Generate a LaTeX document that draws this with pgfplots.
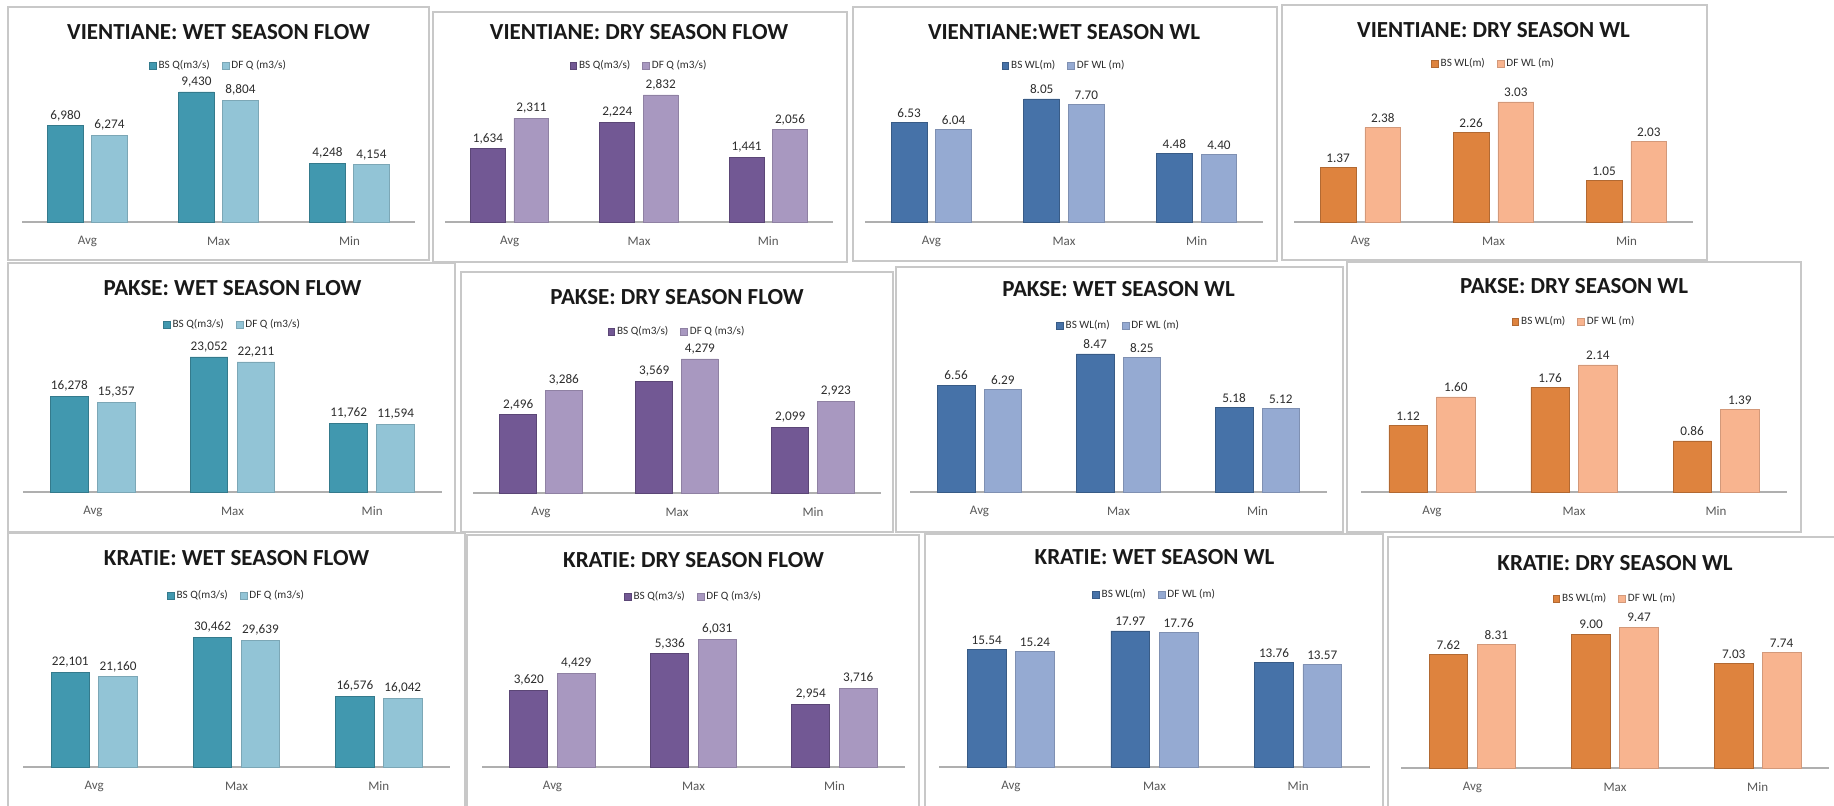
\documentclass[border=0pt]{standalone}
\usepackage{pgfplots}
\pgfplotsset{compat=1.18}
\usepackage{fontspec}
\setmainfont{Carlito}
\definecolor{tealA}{RGB}{65,152,175}
\definecolor{tealB}{RGB}{146,196,214}
\definecolor{purA}{RGB}{114,88,148}
\definecolor{purB}{RGB}{168,152,192}
\definecolor{bluA}{RGB}{70,114,168}
\definecolor{bluB}{RGB}{149,170,210}
\definecolor{orA}{RGB}{222,131,62}
\definecolor{orB}{RGB}{248,180,143}
\definecolor{boxgray}{RGB}{200,200,200}
\definecolor{axgray}{RGB}{175,175,175}
\definecolor{lblgray}{RGB}{89,89,89}
\definecolor{valgray}{RGB}{45,45,45}
\pgfplotsset{
  panel/.style={
    scale only axis, anchor=south west, ybar, ymin=0, xmin=-0.5, xmax=2.5,
    bar width=0.27,
    axis y line=none, axis x line=bottom,
    axis line style={-, draw=axgray, line width=0.7pt},
    xtick={0,1,2}, xticklabels={Avg,Max,Min}, major tick length=0pt, ytick=\empty,
    xticklabel style={font=\fontsize{6.5}{7}\selectfont, text=lblgray, anchor=center, yshift=-9.5pt},
    clip=false,
    nodes near coords,
    every node near coord/.append style={font=\fontsize{6.6}{7}\selectfont, text=valgray, inner sep=2.3pt},
    legend columns=2,
    legend style={at={(0.5,1)}, anchor=center, yshift=-2pt, draw=none, fill=none,
      font=\fontsize{5.6}{6}\selectfont, text=valgray, inner sep=0pt,
      nodes={inner sep=1pt},
      /tikz/every even column/.append style={column sep=5pt}},
    legend image code/.code={\fill[##1] (0pt,-1.7pt) rectangle (3.4pt,1.7pt);},
  },
  flowfmt/.style={/pgf/number format/fixed, /pgf/number format/precision=0,
    /pgf/number format/1000 sep={,}, /pgf/number format/assume math mode=true},
  wlfmt/.style={/pgf/number format/fixed, /pgf/number format/fixed zerofill,
    /pgf/number format/precision=2, /pgf/number format/assume math mode=true},
}
\newcommand\bars[8]{%
  \addplot[fill=#1, draw=#1!80!black, line width=0.4pt, bar shift=-0.168] coordinates {(0,#3) (1,#4) (2,#5)};
  \addplot[fill=#2, draw=#2!85!black, line width=0.4pt, bar shift=0.168] coordinates {(0,#6) (1,#7) (2,#8)};
}
\tikzset{ptitle/.style={font=\bfseries\fontsize{11.5}{13}\selectfont, text=black!90, anchor=center, inner sep=0pt}}
\begin{document}
\begin{tikzpicture}
\useasboundingbox (0,0) rectangle (917pt,403pt);
\clip (0,0) rectangle (917pt,403pt);
\fill[white] (0,0) rectangle (917pt,403pt);
% boxes
\begin{scope}[boxgray, line width=0.9pt]
\draw (4pt,399.5pt) rectangle (214.5pt,273pt);
\draw (216.5pt,397pt) rectangle (423.5pt,272pt);
\draw (426.5pt,399.5pt) rectangle (638.5pt,272.5pt);
\draw (641pt,400.5pt) rectangle (853.5pt,273pt);
\draw (4pt,271.5pt) rectangle (227.5pt,137pt);
\draw (230.5pt,267pt) rectangle (446.5pt,137pt);
\draw (448pt,269.5pt) rectangle (671.5pt,137pt);
\draw (673.5pt,272pt) rectangle (900.5pt,137pt);
\draw (4pt,136.5pt) rectangle (232.5pt,-2pt);
\draw (233.5pt,135.5pt) rectangle (459.5pt,-2pt);
\draw (462.5pt,136pt) rectangle (691.5pt,-2pt);
\draw (694pt,134.5pt) rectangle (920pt,-2pt);
\end{scope}
% titles
\node[ptitle] at (109.25pt,387pt) {VIENTIANE: WET SEASON FLOW};
\node[ptitle] at (319.5pt,387pt) {VIENTIANE: DRY SEASON FLOW};
\node[ptitle] at (532pt,387pt) {VIENTIANE:WET SEASON WL};
\node[ptitle] at (746.75pt,388pt) {VIENTIANE: DRY SEASON WL};
\node[ptitle] at (116.25pt,259pt) {PAKSE: WET SEASON FLOW};
\node[ptitle] at (338.5pt,254.5pt) {PAKSE: DRY SEASON FLOW};
\node[ptitle] at (559.25pt,258.5pt) {PAKSE: WET SEASON WL};
\node[ptitle] at (787pt,260pt) {PAKSE: DRY SEASON WL};
\node[ptitle] at (118.25pt,124pt) {KRATIE: WET SEASON FLOW};
\node[ptitle] at (346.75pt,123pt) {KRATIE: DRY SEASON FLOW};
\node[ptitle] at (577.25pt,124.5pt) {KRATIE: WET SEASON WL};
\node[ptitle] at (807.5pt,121.5pt) {KRATIE: DRY SEASON WL};
% Row 1
\begin{axis}[panel, flowfmt, at={(11pt,292pt)}, width=196.5pt, height=80pt, ymax=11606]
\bars{tealA}{tealB}{6980}{9430}{4248}{6274}{8804}{4154}
\legend{BS Q(m3/s), DF Q (m3/s)}
\end{axis}
\begin{axis}[panel, flowfmt, at={(222.5pt,292pt)}, width=194pt, height=80pt, ymax=3568]
\bars{purA}{purB}{1634}{2224}{1441}{2311}{2832}{2056}
\legend{BS Q(m3/s), DF Q (m3/s)}
\end{axis}
\begin{axis}[panel, wlfmt, at={(432.5pt,292pt)}, width=199pt, height=80pt, ymax=10.47]
\bars{bluA}{bluB}{6.53}{8.05}{4.48}{6.04}{7.70}{4.40}
\legend{BS WL(m), DF WL (m)}
\end{axis}
\begin{axis}[panel, wlfmt, at={(647pt,292pt)}, width=199.5pt, height=81pt, ymax=4.09]
\bars{orA}{orB}{1.37}{2.26}{1.05}{2.38}{3.03}{2.03}
\legend{BS WL(m), DF WL (m)}
\end{axis}
% Row 2
\begin{axis}[panel, flowfmt, at={(11.5pt,157pt)}, width=209.5pt, height=85.5pt, ymax=29200]
\bars{tealA}{tealB}{16278}{23052}{11762}{15357}{22211}{11594}
\legend{BS Q(m3/s), DF Q (m3/s)}
\end{axis}
\begin{axis}[panel, flowfmt, at={(236.5pt,156.5pt)}, width=204pt, height=82.5pt, ymax=5269]
\bars{purA}{purB}{2496}{3569}{2099}{3286}{4279}{2923}
\legend{BS Q(m3/s), DF Q (m3/s)}
\end{axis}
\begin{axis}[panel, wlfmt, at={(455pt,157pt)}, width=208.5pt, height=85pt, ymax=10.43]
\bars{bluA}{bluB}{6.56}{8.47}{5.18}{6.29}{8.25}{5.12}
\legend{BS WL(m), DF WL (m)}
\end{axis}
\begin{axis}[panel, wlfmt, at={(680.5pt,157pt)}, width=213pt, height=87pt, ymax=2.93]
\bars{orA}{orB}{1.12}{1.76}{0.86}{1.60}{2.14}{1.39}
\legend{BS WL(m), DF WL (m)}
\end{axis}
% Row 3
\begin{axis}[panel, flowfmt, at={(11.5pt,19.5pt)}, width=213.5pt, height=87.5pt, ymax=41010]
\bars{tealA}{tealB}{22101}{30462}{16576}{21160}{29639}{16042}
\legend{BS Q(m3/s), DF Q (m3/s)}
\end{axis}
\begin{axis}[panel, flowfmt, at={(241pt,19.5pt)}, width=211.5pt, height=87pt, ymax=8199]
\bars{purA}{purB}{3620}{5336}{2954}{4429}{6031}{3716}
\legend{BS Q(m3/s), DF Q (m3/s)}
\end{axis}
\begin{axis}[panel, wlfmt, at={(469.5pt,19.5pt)}, width=215.5pt, height=88pt, ymax=23.25]
\bars{bluA}{bluB}{15.54}{17.97}{13.76}{15.24}{17.76}{13.57}
\legend{BS WL(m), DF WL (m)}
\end{axis}
\begin{axis}[panel, wlfmt, at={(700.5pt,19pt)}, width=214pt, height=86.5pt, ymax=11.62]
\bars{orA}{orB}{7.62}{9.00}{7.03}{8.31}{9.47}{7.74}
\legend{BS WL(m), DF WL (m)}
\end{axis}
\end{tikzpicture}
\end{document}
